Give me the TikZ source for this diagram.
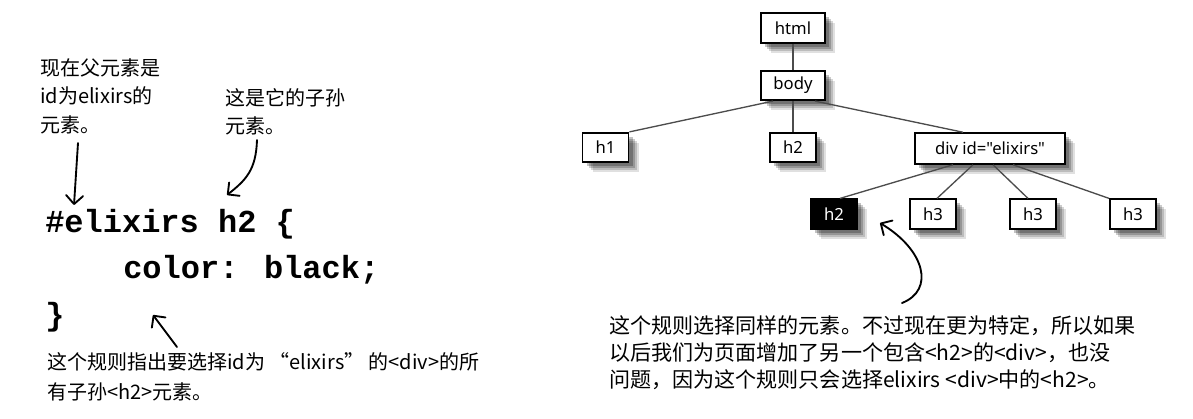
\documentclass[tikz,border=0pt]{standalone}
\usepackage{fontspec}
\newfontfamily\boxfont{Noto Sans}
\newfontfamily\cjk{Noto Sans CJK SC}
\newfontfamily\codefont{Liberation Mono}
\usetikzlibrary{arrows.meta,calc}

\tikzset{
  soft shadow/.style={
    preaction={fill=black, opacity=0.12, transform canvas={xshift=7.5pt, yshift=-7.5pt}},
    preaction={fill=black, opacity=0.16, transform canvas={xshift=6pt, yshift=-6pt}},
    preaction={fill=black, opacity=0.20, transform canvas={xshift=4.5pt, yshift=-4.5pt}},
    preaction={fill=black, opacity=0.24, transform canvas={xshift=3pt, yshift=-3pt}}
  }
}

\begin{document}
\begin{tikzpicture}[
    x=0.75pt, y=-0.75pt,
    box/.style={
      draw,
      line width=1.4pt,
      fill=white,
      soft shadow,
      font=\boxfont\fontsize{12.5}{14}\selectfont,
      minimum width=48pt,
      minimum height=22pt,
      inner sep=1pt
    },
    hbox/.style={box, minimum width=34.5pt},
    edge/.style={draw=black!70, line width=1pt},
    code/.style={anchor=base west, inner sep=0pt,
      font=\codefont\bfseries\fontsize{24}{28}\selectfont},
    note/.style={anchor=north west, inner sep=0pt, align=left},
    hand/.style={line width=1.4pt, line cap=round,
      -{Straight Barb[angle=90:9pt, round]}}
  ]
    \useasboundingbox (0,0) rectangle (1193,418);

    \node[box] (html) at (793,28) {html};
    \node[box] (body) at (793,85.5) {body};
    \node[hbox] (h1) at (605.5,147.5) {h1};
    \node[hbox] (h2) at (793,147.5) {h2};
    \node[box, minimum width=112.5pt, minimum height=23pt] (div-elixirs)
      at (990,148.5) {div id="elixirs"};
    \node[hbox, fill=black, text=white] (h2-sel) at (834,214) {h2};
    \node[hbox] (h3-a) at (933,214) {h3};
    \node[hbox] (h3-b) at (1033,214) {h3};
    \node[hbox] (h3-c) at (1133,214) {h3};

    \draw[edge] (html) -- (body);
    \draw[edge] ($(body.south)+(-20,0)$) -- (h1.north east);
    \draw[edge] (body) -- (h2);
    \draw[edge] ($(body.south)+(22,0)$) -- ($(div-elixirs.north)+(-27,0)$);
    \draw[edge] ($(div-elixirs.south)+(-37,0)$) -- ($(h2-sel.north)+(6,0)$);
    \draw[edge] ($(div-elixirs.south)+(-17,0)$) -- ($(h3-a.north)+(4,0)$);
    \draw[edge] ($(div-elixirs.south)+(3,0)$) -- ($(h3-b.north)+(-5,0)$);
    \draw[edge] ($(div-elixirs.south)+(23,0)$) -- (h3-c.north west);

    \node[code] (code-sel) at (45,232) {\#elixirs h2 \{};
    \node[code] (code-decl) at (123,278) {color: black;};
    \node[code] (code-close) at (45,325) {\}};

    \node[note, font=\cjk\fontsize{15}{21.4}\selectfont] (note-parent)
      at (40,58) {现在父元素是\\id为elixirs的\\元素。};
    \node[note, font=\cjk\fontsize{15}{21.4}\selectfont] (note-child)
      at (225,88) {这是它的子孙\\元素。};
    \node[note, font=\cjk\fontsize{15}{22.5}\selectfont] (note-rule)
      at (47,352) {这个规则指出要选择id为 “elixirs” 的<div>的所\\有子孙<h2>元素。};
    \node[note, font=\cjk\fontsize{15.8}{20.3}\selectfont] (note-same)
      at (609,315.5) {这个规则选择同样的元素。不过现在更为特定，所以如果\\
      以后我们为页面增加了另一个包含<h2>的<div>，也没\\
      问题，因为这个规则只会选择elixirs <div>中的<h2>。};

    \coordinate (parent-tail) at (78,143);
    \coordinate (parent-tip) at (74,205);
    \coordinate (child-tail) at (257,140);
    \coordinate (child-tip) at (227,195);
    \coordinate (rule-tail) at (177,347);
    \coordinate (rule-tip) at (153,315);
    \coordinate (same-tail) at (902,303);
    \coordinate (same-tip) at (880,223);

    \draw[hand] (parent-tail) -- (parent-tip);
    \draw[hand] (child-tail) .. controls (256,170) and (246,180) .. (child-tip);
    \draw[hand] (rule-tail) -- (rule-tip);
    \draw[hand] (same-tail) .. controls (935,290) and (925,250) .. (same-tip);
  \end{tikzpicture}
\end{document}
